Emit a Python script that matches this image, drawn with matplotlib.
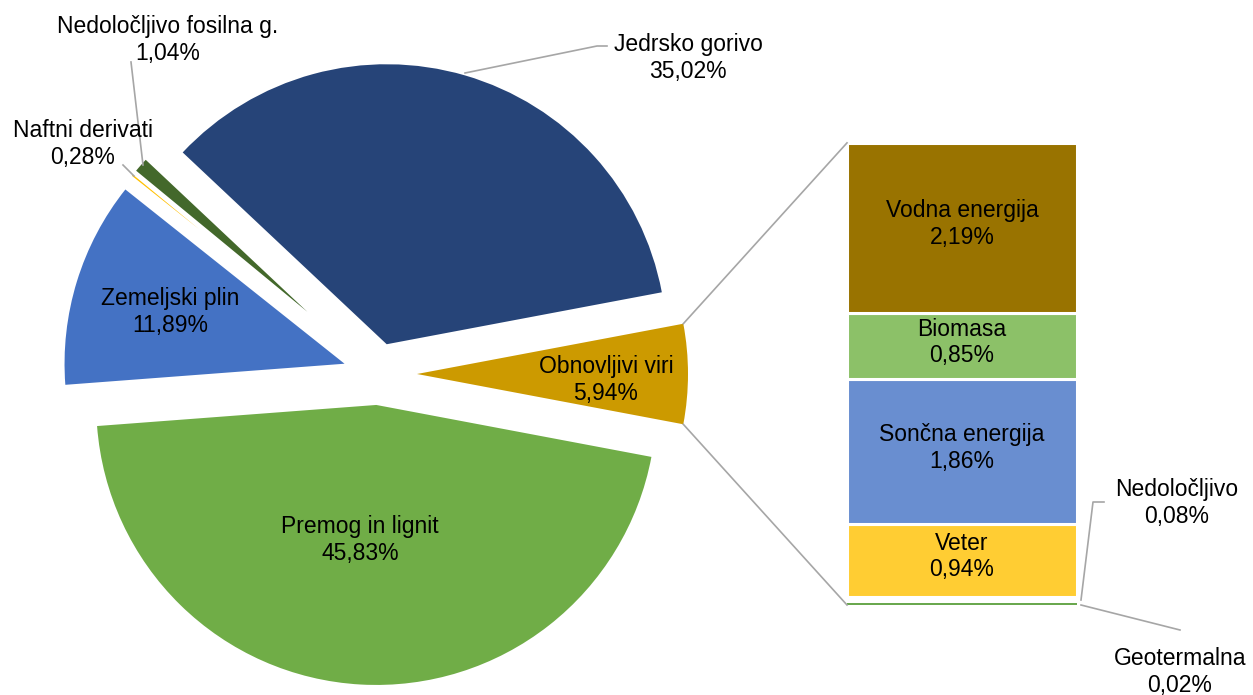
import matplotlib
matplotlib.use('Agg')
import matplotlib.pyplot as plt
import numpy as np

# pie data (clockwise from the "other" slice)
pie_names = ['Obnovljivi viri', 'Premog in lignit', 'Zemeljski plin',
             'Naftni derivati', 'Nedoločljivo fosilna g.', 'Jedrsko gorivo']
pie_values = [5.94, 45.83, 11.89, 0.28, 1.04, 35.02]
pie_colors = ['#CC9A00', '#70AD47', '#4472C4', '#FFC000', '#43682B', '#264478']

# breakdown of Obnovljivi viri (bottom to top)
bar_names = ['Geotermalna', 'Nedoločljivo', 'Veter', 'Sončna energija',
             'Biomasa', 'Vodna energija']
bar_values = [0.02, 0.08, 0.94, 1.86, 0.85, 2.19]
bar_colors = ['#6AA84F', '#FFFFFF', '#FFCD33', '#698ED0', '#8CC168', '#997300']

W, H = 1253, 695
plt.rcParams['font.family'] = ['Liberation Sans', 'DejaVu Sans']
FS = 16.5
LS = 1.2

def lab(name, val):
    return '%s\n%s%%' % (name, ('%.2f' % val).replace('.', ','))

fig = plt.figure(figsize=(W / 100, H / 100), dpi=100)
ax = fig.add_axes([0, 0, 1, 1])

# pie, in pixel units (y measured upward)
cx, cy, R = 378, H - 374, 280
explode = [39, 31, 35, 230, 94, 31]
wedges, _ = ax.pie(pie_values, colors=pie_colors, startangle=360 * pie_values[0] / 200,
                   counterclock=False, explode=explode, radius=R, center=(cx, cy),
                   wedgeprops=dict(linewidth=0), frame=True)
wedges[0].set_radius(271)
wedges[3].set_radius(86)
wedges[4].set_radius(222)

# stacked bar
bx, bw, by0, scale = 962, 230, H - 605, 77.8
bottom = by0
bars = []
for name, v, c in zip(bar_names, bar_values, bar_colors):
    lw = 0 if v < 0.1 else 2.2
    b = ax.bar(bx, v * scale, bw, bottom=bottom, color=c, edgecolor='white', linewidth=lw)
    bars.append(b[0])
    bottom += v * scale
top = bottom

# lines from the slice to the bar
w0 = wedges[0]
for ang, yb in [(w0.theta2, top), (w0.theta1, by0)]:
    px = w0.center[0] + w0.r * np.cos(np.radians(ang))
    py = w0.center[1] + w0.r * np.sin(np.radians(ang))
    ax.plot([px, bx - bw / 2], [py, yb], color='#A6A6A6', lw=1.2)

# labels inside pie
ax.text(606, H - 380, lab(pie_names[0], pie_values[0]), ha='center', va='center',
        fontsize=FS, linespacing=LS)
ax.text(360, H - 540, lab(pie_names[1], pie_values[1]), ha='center', va='center',
        fontsize=FS, linespacing=LS)
ax.text(170, H - 312, lab(pie_names[2], pie_values[2]), ha='center', va='center',
        fontsize=FS, linespacing=LS)

# labels outside pie with leaders
ax.text(83, H - 144, lab(pie_names[3], pie_values[3]), ha='center', va='center',
        fontsize=FS, linespacing=LS)
ax.plot([123, 134], [H - 165, H - 176], color='#A6A6A6', lw=1.2)
ax.text(168, H - 40, lab(pie_names[4], pie_values[4]), ha='center', va='center',
        fontsize=FS, linespacing=LS)
ax.plot([131, 143], [H - 62, H - 165], color='#A6A6A6', lw=1.2)
ax.text(688, H - 58, lab(pie_names[5], pie_values[5]), ha='center', va='center',
        fontsize=FS, linespacing=LS)
ax.plot([465, 597, 607], [H - 73, H - 46, H - 46], color='#A6A6A6', lw=1.2)

# bar labels
for b, name, v in zip(bars[2:], bar_names[2:], bar_values[2:]):
    ax.text(b.get_x() + b.get_width() / 2, b.get_y() + b.get_height() / 2 + 4,
            lab(name, v), ha='center', va='center', fontsize=FS, linespacing=LS)
ax.text(1177, H - 503, lab(bar_names[1], bar_values[1]), ha='center', va='center',
        fontsize=FS, linespacing=LS)
ax.plot([1081, 1093, 1104], [H - 600, H - 502, H - 502], color='#A6A6A6', lw=1.2)
ax.text(1180, H - 672, lab(bar_names[0], bar_values[0]), ha='center', va='center',
        fontsize=FS, linespacing=LS)
ax.plot([1081, 1180], [H - 605, H - 630], color='#A6A6A6', lw=1.2)

ax.set_xlim(0, W)
ax.set_ylim(0, H)
ax.set_aspect('auto')
ax.axis('off')

fig.savefig('out.png', dpi=100)
